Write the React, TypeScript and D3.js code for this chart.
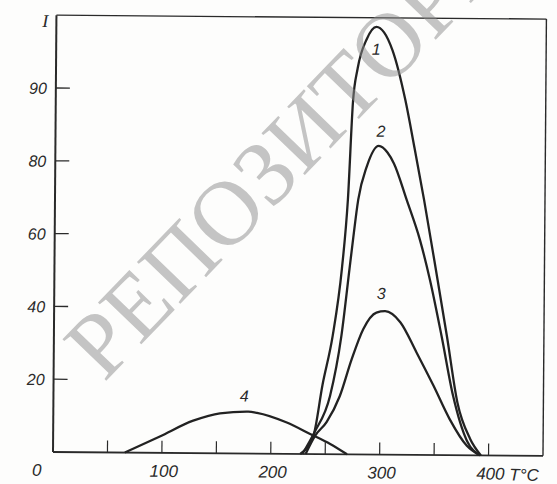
import React from 'react';
import * as d3 from 'd3';

// ---- data ----
const xTickValues = [50, 100, 150, 200, 250, 300, 350, 400];
const xLabelValues = [0, 100, 200, 300, 400];
const xLabelTexts = ['0', '100', '200', '300', '400'];
const yTickValues = [20, 40, 60, 80, 100];
const yTickTexts = ['20', '40', '60', '80', '90'];
const yAxisTitle = 'I';
const xAxisTitle = 'T°C';
const watermarkText = 'РЕПОЗИТОРИЙ';

const curve1T = [227, 239, 247, 256, 264, 269, 273, 277, 285, 294, 301, 309, 321, 330, 339, 352, 361, 371, 383, 393];
const curve1I = [0, 5, 19, 32.5, 51, 70, 97, 106, 114, 117.5, 116, 111, 97.5, 84, 70, 48, 32.5, 14.5, 4.5, 0];
const curve2T = [229, 240, 254, 264, 271, 274, 278.5, 286, 297, 305, 311, 323, 335.5, 345, 356, 367, 380, 392];
const curve2I = [0, 6, 16, 32.5, 51, 59, 70, 79, 84.8, 83, 80, 70, 59, 48, 32.7, 16.3, 4, 0];
const curve3T = [232, 240.5, 251, 263, 273.5, 284, 296, 304, 318, 333, 349, 364, 380, 392];
const curve3I = [0, 5, 8.8, 16, 26, 34.4, 39, 39.4, 36.4, 28.2, 19, 9.9, 2.6, 0];
const curve4T = [66, 98, 128.5, 153, 179, 187, 214.5, 236, 254.5, 270];
const curve4I = [0, 4.5, 8.9, 11, 11.5, 11.2, 8.6, 5.5, 2.8, 0];
const seriesNames = ['1', '2', '3', '4'];

const W = 557;
const H = 484;

export default function App() {
  const x = d3.scaleLinear().domain([0, 450]).range([53, 543]);
  const y = d3.scaleLinear().domain([0, 120]).range([452, 15.2]);

  const series = [
    { t: curve1T, v: curve1I },
    { t: curve2T, v: curve2I },
    { t: curve3T, v: curve3I },
    { t: curve4T, v: curve4I },
  ];
  const line = d3
    .line<[number, number]>()
    .x((d) => x(d[0]))
    .y((d) => y(d[1]))
    .curve(d3.curveMonotoneX);

  // label offsets (px) relative to each curve's peak
  const labelOffsets = [
    { dx: 0, dy: 28 },
    { dx: 2, dy: -9 },
    { dx: -4, dy: -12 },
    { dx: -4, dy: -10 },
  ];

  const numFont = "'Liberation Sans', Arial, sans-serif";
  const ink = '#2a2a2a';

  return (
    <svg
      width={W}
      height={H}
      viewBox={`0 0 ${W} ${H}`}
      style={{ position: 'absolute', left: 0, top: 0, background: '#fdfdfc' }}
    >
      <rect x={0} y={0} width={W} height={H} fill="#fdfdfc" />
      <g transform={`rotate(0.45, ${x(0)}, ${y(0)})`}>
        {/* frame */}
        <line x1={x(0)} y1={y(0)} x2={x(0)} y2={y(120)} stroke={ink} strokeWidth={2} />
        <line x1={x(0)} y1={y(0)} x2={x(450)} y2={y(0)} stroke={ink} strokeWidth={1.8} />
        <line x1={x(0)} y1={y(120)} x2={x(450)} y2={y(120)} stroke={ink} strokeWidth={1.3} />
        <line x1={x(450)} y1={y(0)} x2={x(450)} y2={y(120)} stroke={ink} strokeWidth={1.4} />

        {/* x ticks (inward) */}
        {xTickValues.map((v) => (
          <line key={'xt' + v} x1={x(v)} x2={x(v)} y1={y(0)} y2={y(0) - 12} stroke={ink} strokeWidth={1.2} />
        ))}
        {xLabelValues.map((v, i) => (
          <text
            key={'xl' + v}
            x={v === 0 ? x(v) - 16 : x(v) + 2}
            y={y(0) + 24}
            textAnchor="middle"
            fontFamily={numFont}
            fontStyle="italic"
            fontSize={17}
            fill={ink}
          >
            {xLabelTexts[i]}
          </text>
        ))}
        <text
          x={x(450) - 4}
          y={y(0) + 25}
          textAnchor="end"
          fontFamily={numFont}
          fontStyle="italic"
          fontSize={17}
          fill={ink}
        >
          {xAxisTitle}
        </text>

        {/* y ticks (inward) */}
        {yTickValues.map((v, i) => (
          <g key={'yt' + v}>
            <line x1={x(0)} x2={x(0) + 14} y1={y(v)} y2={y(v)} stroke={ink} strokeWidth={1.3} />
            <text
              x={x(0) - 9}
              y={y(v) + 6}
              textAnchor="end"
              fontFamily={numFont}
              fontStyle="italic"
              fontSize={16}
              fill={ink}
            >
              {yTickTexts[i]}
            </text>
          </g>
        ))}
        <text
          x={x(0) - 8}
          y={y(120) + 12}
          textAnchor="end"
          fontFamily="'Liberation Serif', serif"
          fontStyle="italic"
          fontSize={18}
          fill={ink}
        >
          {yAxisTitle}
        </text>

        {/* curves */}
        {series.map((s, i) => {
          const pts = s.t.map((t, j) => [t, s.v[j]] as [number, number]);
          return (
            <path key={'c' + i} d={line(pts) || ''} fill="none" stroke="#222" strokeWidth={2.3} strokeLinejoin="round" />
          );
        })}
        {series.map((s, i) => {
          const k = s.v.indexOf(Math.max(...s.v));
          return (
            <text
              key={'lab' + i}
              x={x(s.t[k]) + labelOffsets[i].dx}
              y={y(s.v[k]) + labelOffsets[i].dy}
              textAnchor="middle"
              fontFamily={numFont}
              fontStyle="italic"
              fontSize={16}
              fill={ink}
            >
              {seriesNames[i]}
            </text>
          );
        })}
      </g>

      {/* watermark */}
      <text
        x={0}
        y={0}
        transform="translate(104, 383) rotate(-46)"
        fontFamily="'Liberation Serif', 'DejaVu Serif', serif"
        fontSize={92}
        fill="#8c8c8c"
        fillOpacity={0.5}
      >
        {watermarkText}
      </text>
    </svg>
  );
}
